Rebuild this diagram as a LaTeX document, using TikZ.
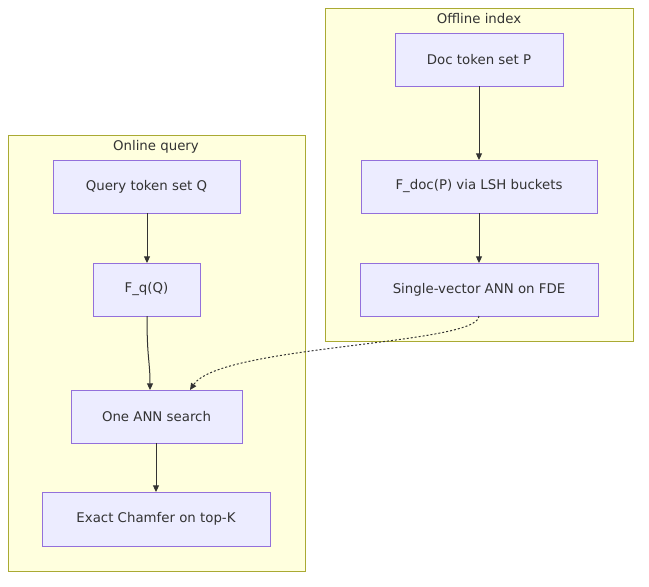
\documentclass[tikz,border=0pt]{standalone}
\usepackage{fontspec}
\setmainfont{DejaVu Sans}
\usetikzlibrary{arrows.meta}
\definecolor{cfill}{HTML}{FFFFDE}
\definecolor{cline}{HTML}{AAAA33}
\definecolor{nfill}{HTML}{ECECFF}
\definecolor{nline}{HTML}{9370DB}
\definecolor{txt}{HTML}{333333}
\begin{document}
\begin{tikzpicture}[x=0.75pt,y=-0.75pt,
  cluster/.style={draw=cline,fill=cfill,line width=0.75pt},
  box/.style={draw=nline,fill=nfill,line width=0.75pt,text=txt,font=\fontsize{10}{12}\selectfont},
  lbl/.style={text=txt,font=\fontsize{10}{12}\selectfont},
  edge/.style={draw=txt,line width=0.75pt,-{Triangle[length=5pt,width=4.5pt]}}]
\useasboundingbox (0,0) rectangle (649,586);
\fill[white] (0,0) rectangle (649,586);
\draw[cluster] (325,8) rectangle (633,341);
\node[lbl] (offl) at (479,19) {Offline index};
\draw[cluster] (8,135) rectangle (305,571);
\node[lbl] (onl) at (156,147) {Online query};
\newcommand{\bx}[6]{\path[box] (#2,#3) rectangle (#4,#5); \node[lbl] (#1) at ({(#2+#4)/2},{(#3+#5)/2}) {#6};
  \coordinate (#1-n) at ({(#2+#4)/2},#3); \coordinate (#1-s) at ({(#2+#4)/2},#5);}
\bx{doc}{395}{33}{563}{86}{Doc token set P}
\bx{fdoc}{361}{160}{597}{213}{F\_doc(P) via LSH buckets}
\bx{sv}{360}{263}{598}{316}{Single-vector ANN on FDE}
\bx{qq}{53}{160}{240}{213}{Query token set Q}
\bx{fq}{93}{263}{200}{316}{F\_q(Q)}
\bx{one}{71}{390}{242}{443}{One ANN search}
\bx{ex}{42}{492}{270}{546}{Exact Chamfer on top-K}
\draw[edge] (doc-s) -- (fdoc-n);
\draw[edge] (fdoc-s) -- (sv-n);
\draw[edge] (147,213) -- (147,263);
\draw[edge] (147,316) .. controls (147,360) and (150,360) .. (150,390);
\draw[edge] (156,443) -- (156,492);
\draw[edge,dash pattern=on 1.5pt off 1.5pt] (479,316) .. controls (479,345) and (220,345) .. (190,390);
\end{tikzpicture}
\end{document}
